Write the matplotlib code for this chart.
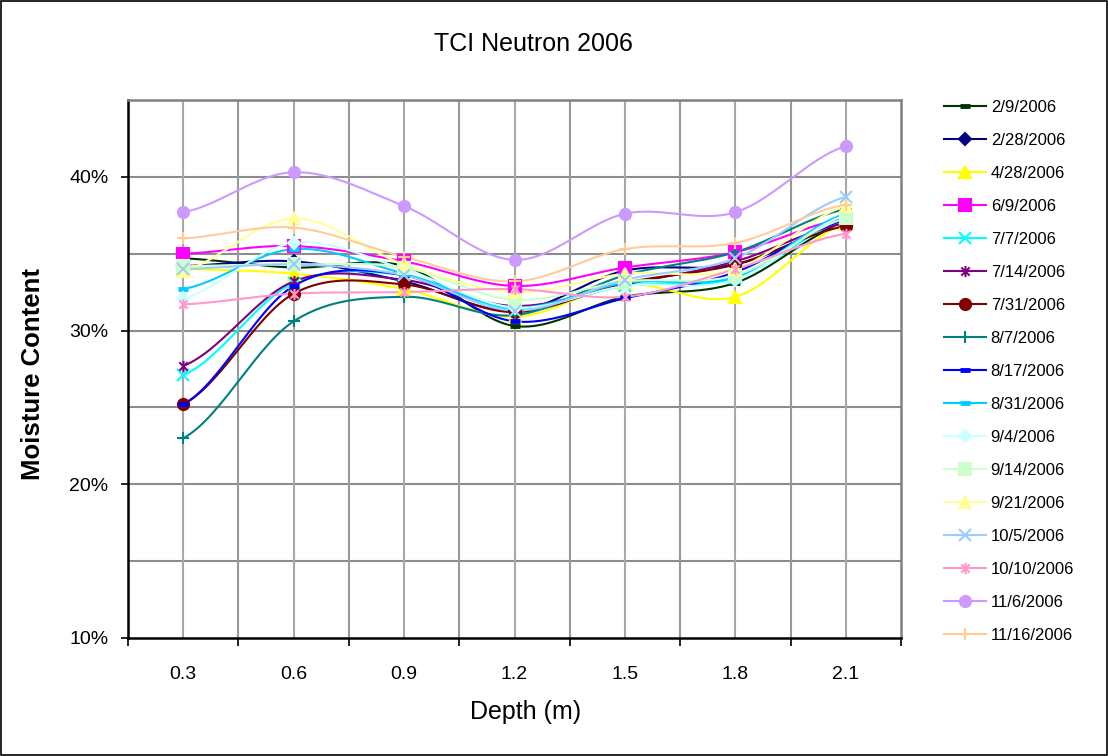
import numpy as np
import matplotlib
matplotlib.use("Agg")
from matplotlib import pyplot as plt
from matplotlib.path import Path
from matplotlib.patches import Rectangle

plt.rcParams['font.family'] = ['Liberation Sans', 'DejaVu Sans']

depths = ["0.3", "0.6", "0.9", "1.2", "1.5", "1.8", "2.1"]

# moisture content (%) per survey date
d_0209 = [34.7, 34.1, 34.2, 30.3, 32.2, 33.1, 37.0]
d_0228 = [34.2, 34.5, 33.2, 31.3, 33.9, 34.3, 36.9]
d_0428 = [34.0, 33.7, 32.7, 30.9, 33.0, 32.2, 37.0]
d_0609 = [35.0, 35.5, 34.5, 32.9, 34.1, 35.1, 37.3]
d_0707 = [27.1, 33.1, 33.6, 31.4, 32.9, 33.4, 37.2]
d_0714 = [27.7, 33.2, 33.3, 31.6, 33.0, 34.5, 37.0]
d_0731 = [25.2, 32.4, 33.0, 31.2, 33.1, 34.3, 36.8]
d_0807 = [23.0, 30.6, 32.2, 31.0, 33.6, 35.1, 37.9]
d_0817 = [25.2, 32.9, 33.6, 30.6, 32.1, 33.8, 37.2]
d_0831 = [32.7, 35.3, 33.7, 31.5, 33.1, 33.5, 37.6]
d_0904 = [32.1, 35.7, 34.0, 31.5, 32.9, 33.3, 37.5]
d_0914 = [34.2, 34.3, 34.1, 32.0, 33.2, 33.6, 37.3]
d_0921 = [33.9, 37.3, 34.3, 32.5, 33.7, 34.0, 38.1]
d_1005 = [34.0, 34.3, 33.6, 31.3, 33.3, 34.7, 38.7]
d_1010 = [31.7, 32.4, 32.5, 32.7, 32.2, 34.0, 36.3]
d_1106 = [37.7, 40.3, 38.1, 34.6, 37.6, 37.7, 42.0]
d_1116 = [36.0, 36.7, 34.8, 33.2, 35.3, 35.7, 38.2]

# asterisk marker: an x with a vertical bar
star = Path([(0, -1), (0, 1), (-0.75, -0.75), (0.75, 0.75), (-0.75, 0.75), (0.75, -0.75)],
            [Path.MOVETO, Path.LINETO, Path.MOVETO, Path.LINETO, Path.MOVETO, Path.LINETO])

series = [
    ("2/9/2006", d_0209, "#003300", "_"),
    ("2/28/2006", d_0228, "#000080", "D"),
    ("4/28/2006", d_0428, "#FFFF00", "^"),
    ("6/9/2006", d_0609, "#FF00FF", "s"),
    ("7/7/2006", d_0707, "#00FFFF", "x"),
    ("7/14/2006", d_0714, "#800080", star),
    ("7/31/2006", d_0731, "#800000", "o"),
    ("8/7/2006", d_0807, "#008080", "+"),
    ("8/17/2006", d_0817, "#0000FF", "_"),
    ("8/31/2006", d_0831, "#00CCFF", "_"),
    ("9/4/2006", d_0904, "#CCFFFF", "D"),
    ("9/14/2006", d_0914, "#CCFFCC", "s"),
    ("9/21/2006", d_0921, "#FFFF99", "^"),
    ("10/5/2006", d_1005, "#99CCFF", "x"),
    ("10/10/2006", d_1010, "#FF99CC", star),
    ("11/6/2006", d_1106, "#CC99FF", "o"),
    ("11/16/2006", d_1116, "#FFCC99", "+"),
]


def smooth(y, n=30):
    # Catmull-Rom curve through the points, like a smoothed line
    y = np.asarray(y, float)
    p = np.concatenate([[y[0]], y, [y[-1]]])
    xs, ys = [], []
    for i in range(len(y) - 1):
        p0, p1, p2, p3 = p[i], p[i + 1], p[i + 2], p[i + 3]
        t = np.linspace(0, 1, n, endpoint=False)
        yy = 0.5 * (2 * p1 + (-p0 + p2) * t + (2 * p0 - 5 * p1 + 4 * p2 - p3) * t ** 2
                    + (-p0 + 3 * p1 - 3 * p2 + p3) * t ** 3)
        xs.append(i + t)
        ys.append(yy)
    xs.append([len(y) - 1])
    ys.append([y[-1]])
    return np.concatenate(xs), np.concatenate(ys)


fig = plt.figure(figsize=(11.08, 7.56), dpi=100)
ax = fig.add_axes([128 / 1108, 1 - 638 / 756, (901 - 128) / 1108, (638 - 100) / 756])

x = np.arange(len(depths))
handles = []
for label, vals, color, mk in series:
    sx, sy = smooth(vals)
    ax.plot(sx, sy, color=color, lw=1.5, zorder=3)
    ms = 8
    mew = 1.5
    if mk == "_":
        mew = 3.5
        ms = 7
    elif mk == "D":
        ms = 6
    h, = ax.plot(x, vals, linestyle="none", marker=mk, color=color, ms=ms, mew=mew,
                 mec=color, mfc=color, zorder=4)
    # legend handle combines line and marker
    lh, = ax.plot([], [], color=color, lw=1.5, marker=mk, ms=ms, mew=mew, mec=color, mfc=color)
    handles.append(lh)

ax.set_xlim(-0.5, len(depths) - 0.5)
ax.set_ylim(10, 45)

# category gridlines at the centres and boundaries
ax.set_xticks(np.arange(-0.5, len(depths), 1.0))
ax.set_xticklabels([])
ax.set_xticks(x, minor=True)
ax.set_xticklabels(depths, minor=True)
ax.tick_params(axis="x", which="major", direction="out", length=6, width=1.2, color="black")
ax.tick_params(axis="x", which="minor", length=0, pad=20, labelsize=14)
ax.set_yticks([10, 20, 30, 40])
ax.set_yticklabels(["10%", "20%", "30%", "40%"])
ax.set_yticks([15, 25, 35], minor=True)
ax.tick_params(axis="y", which="major", direction="out", length=5, width=1.2, pad=9, labelsize=14)
ax.tick_params(axis="y", which="minor", length=0)

for v in np.arange(15, 45, 5):
    ax.axhline(v, color="#8c8c8c", lw=1.5, zorder=1)
for v in x:
    ax.axvline(v, color="#a8a8a8", lw=1.5, zorder=1)
for v in np.arange(0.5, len(depths) - 1, 1.0):
    ax.axvline(v, color="#999999", lw=1.5, zorder=1)

ax.spines["left"].set_color("black")
ax.spines["left"].set_linewidth(1.8)
ax.spines["bottom"].set_color("black")
ax.spines["bottom"].set_linewidth(1.8)
ax.spines["top"].set_color("#808080")
ax.spines["top"].set_linewidth(1.8)
ax.spines["right"].set_color("#808080")
ax.spines["right"].set_linewidth(1.8)

fig.text(533 / 1108, 1 - 44 / 756, "TCI Neutron 2006", ha="center", va="center", fontsize=18)
fig.text(526 / 1108, 1 - 712 / 756, "Depth (m)", ha="center", va="center", fontsize=18)
fig.text(33 / 1108, 1 - 374 / 756, "Moisture Content", ha="center", va="center",
         rotation=90, fontsize=18.5, fontweight="bold")

fig.legend(handles, [s[0] for s in series], loc="upper left",
           bbox_to_anchor=(944 / 1108, 1 - 100 / 756), frameon=False, fontsize=12,
           handlelength=2.5, handletextpad=0.3, labelspacing=1.08, borderpad=0,
           borderaxespad=0)

fig.patches.append(Rectangle((0.001, 0.001), 0.998, 0.998, transform=fig.transFigure,
                             fill=False, edgecolor="black", lw=1.2))

plt.savefig("out.png", dpi=100)
